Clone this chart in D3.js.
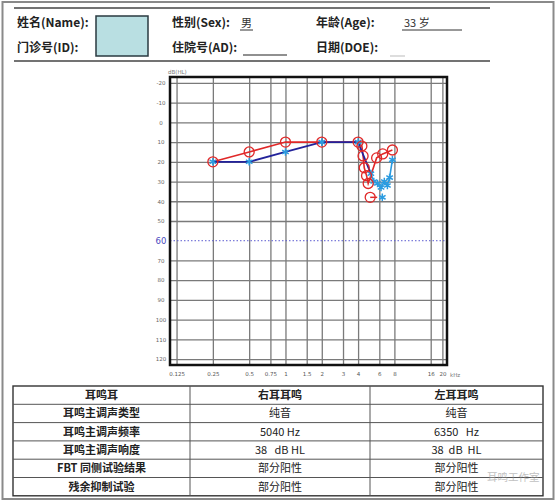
<!DOCTYPE html>
<html><head><meta charset="utf-8">
<script src="https://cdn.jsdelivr.net/npm/d3@7"></script>
<style>body{margin:0;background:#fff}svg{display:block}</style>
</head><body>
<script>
// ---- data ----
const gridFreqs = [0.125, 0.25, 0.5, 0.75, 1, 1.5, 2, 3, 4, 6, 8, 16, 20];
const freqLabels = ["0.125", "0.25", "0.5", "0.75", "1", "1.5", "2", "3", "4", "6", "8", "16", "20"];
const dbTicks = [-20, -10, 0, 10, 20, 30, 40, 50, 60, 70, 80, 90, 100, 110, 120];
const rightFreqs = [0.25, 0.5, 1, 2, 4, 4.3, 4.4, 4.5, 4.7, 4.85, 5.7, 6.4, 7.7];
const rightDb = [20, 15, 10, 10, 10, 12, 17, 23, 27, 31, 18, 16, 14];
const leftFreqs = [0.25, 0.5, 1, 2, 4, 5.1, 5.4, 5.8, 6.2, 6.6, 7.0, 7.3, 7.7];
const leftDb = [20, 20, 15, 10, 10, 26, 30, 31, 33, 30, 32, 28, 19];
const rightTinnitus = [5.04, 38];
const leftTinnitus = [6.35, 38];
const tableHead = ["耳鸣耳", "右耳耳鸣", "左耳耳鸣"];
const tableRows = [
  ["耳鸣主调声类型", "纯音", "纯音"],
  ["耳鸣主调声频率", "5040 Hz", "6350   Hz"],
  ["耳鸣主调声响度", "38   dB HL", "38  dB  HL"],
  ["FBT 同侧试验结果", "部分阳性", "部分阳性"],
  ["残余抑制试验", "部分阳性", "部分阳性"]
];

const W = 559, H = 502;
const svg = d3.select("body").append("svg").attr("width", W).attr("height", H);
const CJK = "'Noto Sans CJK SC','Noto Sans',sans-serif";

// outer frame
svg.append("rect").attr("x", 2.5).attr("y", 2).attr("width", 551).attr("height", 497)
  .attr("fill", "none").attr("stroke", "#8a8a8a").attr("stroke-width", 2);

// header
svg.append("line").attr("x1", 14).attr("x2", 490).attr("y1", 8).attr("y2", 8).attr("stroke", "#444").attr("stroke-width", 1.3);
svg.append("line").attr("x1", 14).attr("x2", 490).attr("y1", 61).attr("y2", 61).attr("stroke", "#444").attr("stroke-width", 1.3);
const hdr = [
  ["姓名(Name):", 17, 27], ["门诊号(ID):", 17, 52],
  ["性别(Sex):", 172, 27], ["住院号(AD):", 172, 52],
  ["年龄(Age):", 316, 27], ["日期(DOE):", 316, 52]
];
svg.selectAll("text.hdr").data(hdr).join("text").attr("class", "hdr")
  .attr("x", d => d[1]).attr("y", d => d[2]).text(d => d[0])
  .attr("font-family", CJK).attr("font-weight", "bold").attr("font-size", 12).attr("fill", "#222");
svg.append("rect").attr("x", 96).attr("y", 16).attr("width", 52).attr("height", 40)
  .attr("fill", "#b9dfe2").attr("stroke", "#2a3a40").attr("stroke-width", 1.5);
svg.append("text").attr("x", 241).attr("y", 27).text("男").attr("font-family", CJK).attr("font-size", 11).attr("fill", "#333");
svg.append("line").attr("x1", 240).attr("x2", 253).attr("y1", 30).attr("y2", 30).attr("stroke", "#333");
svg.append("text").attr("x", 404).attr("y", 27).text("33 岁").attr("font-family", CJK).attr("font-size", 11).attr("fill", "#333");
svg.append("line").attr("x1", 402).attr("x2", 462).attr("y1", 30).attr("y2", 30).attr("stroke", "#333");
svg.append("line").attr("x1", 243).attr("x2", 287).attr("y1", 55).attr("y2", 55).attr("stroke", "#222").attr("stroke-width", 1.2);
svg.append("line").attr("x1", 390).attr("x2", 405).attr("y1", 56).attr("y2", 56).attr("stroke", "#bbb");

// chart
const x = d3.scaleLog().base(2).domain([0.1103, 21.84]).range([170, 447]);
const y = d3.scaleLinear().domain([-23, 123]).range([77, 365]);
const g = svg.append("g");
const pw = x.range()[1] - x.range()[0], ph = y(123) - y(-23);

// grid
g.append("g").attr("transform", `translate(0,${y(123)})`)
  .call(d3.axisBottom(x).tickValues(gridFreqs).tickSize(-ph).tickFormat(""))
  .call(s => s.select(".domain").remove())
  .call(s => s.selectAll("line").attr("stroke", "#7a7a7a").attr("stroke-width", 1.3));
g.append("g").attr("transform", `translate(${x.range()[0]},0)`)
  .call(d3.axisLeft(y).tickValues(dbTicks).tickSize(-pw).tickFormat(""))
  .call(s => s.select(".domain").remove())
  .call(s => s.selectAll("line").attr("stroke", d => d === 60 ? "none" : "#7a7a7a").attr("stroke-width", 1.3));
// 60 dB dotted line
g.append("line").attr("x1", x.range()[0]).attr("x2", x.range()[1]).attr("y1", y(60)).attr("y2", y(60))
  .attr("stroke", "#5a5ad0").attr("stroke-width", 1).attr("stroke-dasharray", "1.5,2");

// y labels
g.append("g").attr("transform", "translate(161,0)")
  .call(d3.axisLeft(y).tickValues(dbTicks).tickSize(0).tickPadding(0).tickFormat(d => d))
  .call(s => s.select(".domain").remove())
  .call(s => s.selectAll("text").attr("text-anchor", "middle")
    .attr("font-family", "'DejaVu Sans',sans-serif")
    .attr("font-size", d => d === 60 ? 8.5 : 5.5)
    .attr("fill", d => d === 60 ? "#4a4ac0" : "#666"));
g.append("text").attr("x", 168).attr("y", 74).text("dB(HL)").attr("font-size", 5.5)
  .attr("font-family", "'DejaVu Sans',sans-serif").attr("fill", "#777");

// x labels
g.append("g").attr("transform", `translate(0,${y(123) + 3})`)
  .call(d3.axisBottom(x).tickValues(gridFreqs).tickSize(0).tickPadding(4)
    .tickFormat((d, i) => freqLabels[i]))
  .call(s => s.select(".domain").remove())
  .call(s => s.selectAll("text").attr("font-family", "'DejaVu Sans',sans-serif")
    .attr("font-size", 5.5).attr("fill", "#555"));
g.append("text").attr("x", 450).attr("y", y(123) + 12).text("kHz").attr("font-size", 5.5)
  .attr("font-family", "'DejaVu Sans',sans-serif").attr("fill", "#777");

// frame
g.append("rect").attr("x", x.range()[0]).attr("y", y(-23)).attr("width", pw)
  .attr("height", ph).attr("fill", "none").attr("stroke", "#111").attr("stroke-width", 2.5);

// series
const right = rightFreqs.map((f, i) => [f, rightDb[i]]);
const left = leftFreqs.map((f, i) => [f, leftDb[i]]);
const line = d3.line().x(d => x(d[0])).y(d => y(d[1]));
g.append("path").attr("d", line(right)).attr("fill", "none").attr("stroke", "#e02828").attr("stroke-width", 1.6);
g.append("path").attr("d", line(left.slice(0, 6))).attr("fill", "none").attr("stroke", "#22229a").attr("stroke-width", 1.8);
g.append("path").attr("d", line(left.slice(5))).attr("fill", "none").attr("stroke", "#2a9be0").attr("stroke-width", 1.6);

const redC = "#e02828", blueC = "#2a9be0";
const star = d3.symbol().type(d3.symbolAsterisk).size(40);
g.selectAll("path.lm").data(left.concat([leftTinnitus])).join("path").attr("class", "lm")
  .attr("d", star).attr("transform", d => `translate(${x(d[0])},${y(d[1])})`)
  .attr("fill", "none").attr("stroke", blueC).attr("stroke-width", 1.5);
g.selectAll("circle.rm").data(right.concat([rightTinnitus])).join("circle").attr("class", "rm")
  .attr("cx", d => x(d[0])).attr("cy", d => y(d[1])).attr("r", 5)
  .attr("fill", "none").attr("stroke", redC).attr("stroke-width", 1.3);
g.append("line").attr("x1", x(rightTinnitus[0])).attr("x2", x(rightTinnitus[0]) + 7)
  .attr("y1", y(rightTinnitus[1])).attr("y2", y(rightTinnitus[1])).attr("stroke", redC).attr("stroke-width", 1.5);

// table
const tx = [13, 190, 370, 543], ty0 = 386, rh = 18.3;
const tg = svg.append("g");
const nRows = tableRows.length + 1;
tg.append("rect").attr("x", tx[0]).attr("y", ty0).attr("width", tx[3] - tx[0]).attr("height", rh * nRows)
  .attr("fill", "none").attr("stroke", "#333").attr("stroke-width", 1.4);
tg.selectAll("line.h").data(d3.range(1, nRows)).join("line").attr("class", "h")
  .attr("x1", tx[0]).attr("x2", tx[3]).attr("y1", d => ty0 + d * rh).attr("y2", d => ty0 + d * rh)
  .attr("stroke", "#555").attr("stroke-width", 1);
tg.selectAll("line.v").data([tx[1], tx[2]]).join("line").attr("class", "v")
  .attr("x1", d => d).attr("x2", d => d).attr("y1", ty0).attr("y2", ty0 + rh * nRows)
  .attr("stroke", "#555").attr("stroke-width", 1);
const allRows = [tableHead].concat(tableRows);
allRows.forEach((row, r) => {
  row.forEach((cell, c) => {
    tg.append("text").attr("x", (tx[c] + tx[c + 1]) / 2).attr("y", ty0 + r * rh + rh / 2 + 4)
      .attr("text-anchor", "middle").text(cell)
      .attr("font-family", CJK).attr("font-size", 11)
      .attr("font-weight", (r === 0 || c === 0) ? "bold" : "normal")
      .attr("fill", "#222").style("white-space", "pre");
  });
});
// watermark
svg.append("text").attr("x", 487).attr("y", 481).text("耳鸣工作室")
  .attr("font-family", CJK).attr("font-size", 10.5).attr("fill", "#999").attr("opacity", 0.6);
</script>
</body></html>
